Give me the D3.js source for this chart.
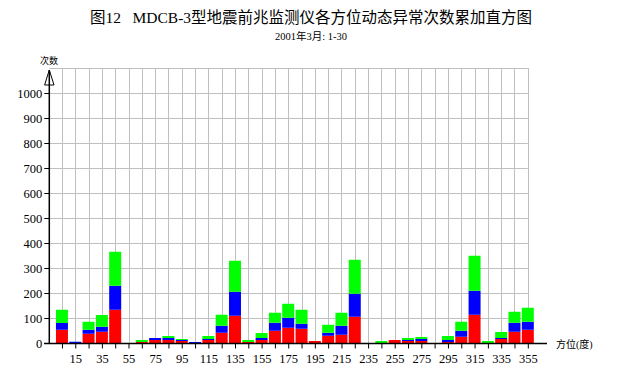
<!DOCTYPE html>
<html>
<head>
<meta charset="utf-8">
<script src="https://cdn.jsdelivr.net/npm/d3@7"></script>
<style>
  html, body { margin: 0; padding: 0; background: #fff; }
  svg { display: block; }
  text { font-family: "Liberation Serif", "Noto Sans CJK SC", serif; fill: #000; }
</style>
</head>
<body>
<svg id="chart" width="622" height="380"></svg>
<script>
// Azimuth bins (degrees, bin centres)
const angles = [5,15,25,35,45,55,65,75,85,95,105,115,125,135,145,155,165,175,185,195,205,215,225,235,245,255,265,275,285,295,305,315,325,335,345,355];
// Stacked series (bottom -> top)
const redVals   = [53,0,37,45,133,0,4,12,12,8,0,12,41,109,4,12,49,61,57,8,29,33,105,0,0,12,8,8,0,4,25,113,0,16,45,53];
const blueVals  = [27,5,16,20,96,0,0,8,8,4,4,4,28,96,0,8,32,40,20,0,12,36,92,0,0,0,4,8,0,8,24,96,0,4,36,32];
const greenVals = [53,0,32,47,136,0,8,0,8,4,0,12,44,124,8,20,40,56,56,0,32,52,136,0,8,0,8,8,0,16,36,140,8,24,44,56];
const xTickLabels = [15,35,55,75,95,115,135,155,175,195,215,235,255,275,295,315,335,355];
const yTickLabels = [0,100,200,300,400,500,600,700,800,900,1000];
const gridYValues = [100,200,300,400,500,600,700,800,900,1000,1100];

const title = "图12\u00a0\u00a0 MDCB-3型地震前兆监测仪各方位动态异常次数累加直方图";
const subtitle = "2001年3月: 1-30";

const svg = d3.select("#chart");

const x = d3.scaleLinear().domain([0, 360]).range([55.3, 55.3 + 13.31 * 36]);
const y = d3.scaleLinear().domain([0, 1100]).range([343, 68]);
const axisX0 = 49.3;
const gridRight = x(355);

// Grid
const grid = svg.append("g").attr("stroke", "#c0c0c0").attr("stroke-width", 1);
grid.selectAll("line.h").data(gridYValues).join("line")
  .attr("x1", axisX0).attr("x2", gridRight)
  .attr("y1", d => Math.round(y(d)) + 0.5).attr("y2", d => Math.round(y(d)) + 0.5);
grid.selectAll("line.v").data(angles).join("line")
  .attr("x1", d => Math.round(x(d)) + 0.5).attr("x2", d => Math.round(x(d)) + 0.5)
  .attr("y1", y(1100)).attr("y2", y(0));

// Stacked bars
const table = angles.map((a, i) => ({angle: a, red: redVals[i], blue: blueVals[i], green: greenVals[i]}));
const stack = d3.stack().keys(["red", "blue", "green"])(table);
const colors = {red: "#ff0000", blue: "#0000ff", green: "#00ff00"};
const barW = 12;
svg.append("g").selectAll("g").data(stack).join("g")
  .attr("fill", d => colors[d.key])
  .selectAll("rect").data(d => d).join("rect")
  .attr("x", d => x(d.data.angle) - barW / 2)
  .attr("width", barW)
  .attr("y", d => y(d[1]))
  .attr("height", d => Math.max(0, y(d[0]) - y(d[1])));

// X axis
const xAxis = d3.axisBottom(x).tickValues(angles).tickSize(5)
  .tickFormat(d => xTickLabels.includes(d) ? d : "");
const gx = svg.append("g").attr("transform", "translate(0,343.5)").call(xAxis);
gx.select(".domain").remove();
gx.selectAll(".tick line").attr("stroke", "#000");
gx.selectAll(".tick text").attr("font-size", 12.5).attr("dy", "0.95em")
  .style("font-family", "'Liberation Serif', serif");
svg.append("line").attr("x1", 44).attr("x2", 547).attr("y1", 343.5).attr("y2", 343.5)
  .attr("stroke", "#000").attr("stroke-width", 1.5);

// Y axis
const yAxis = d3.axisLeft(y).tickValues(yTickLabels).tickSize(5).tickFormat(d3.format("d"));
const gy = svg.append("g").attr("transform", `translate(${axisX0},0)`).call(yAxis);
gy.select(".domain").remove();
gy.selectAll(".tick line").attr("stroke", "#000");
gy.selectAll(".tick text").attr("font-size", 12.5).attr("x", -7)
  .style("font-family", "'Liberation Serif', serif");
svg.append("line").attr("x1", axisX0).attr("x2", axisX0).attr("y1", 344).attr("y2", 70)
  .attr("stroke", "#000").attr("stroke-width", 1.5);
// Arrow head (hollow)
svg.append("path").attr("d", `M${axisX0},70 L${axisX0 - 4.7},85 L${axisX0 + 4.7},85 Z`)
  .attr("fill", "none").attr("stroke", "#000").attr("stroke-width", 1);

// Axis titles
svg.append("text").attr("x", 40).attr("y", 64).attr("font-size", 9).text("次数");
svg.append("text").attr("x", 556).attr("y", 347.5).attr("font-size", 10).text("方位(度)");

// Titles
svg.append("text").attr("x", 311).attr("y", 23).attr("text-anchor", "middle")
  .attr("font-size", 15.5).text(title);
svg.append("text").attr("x", 311).attr("y", 40).attr("text-anchor", "middle")
  .attr("font-size", 10.5).text(subtitle);
</script>
</body>
</html>
